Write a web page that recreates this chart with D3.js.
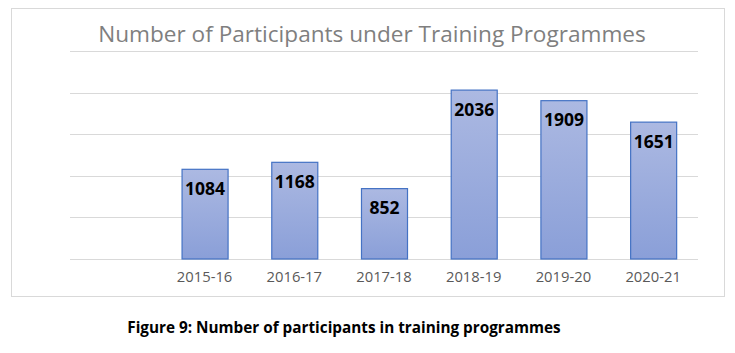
<!DOCTYPE html>
<html>
<head>
<meta charset="utf-8">
<script src="https://cdn.jsdelivr.net/npm/d3@7"></script>
<style>
  body { margin: 0; background: #fff; }
  svg { display: block; font-family: "Open Sans", sans-serif; }
</style>
</head>
<body>
<div id="chart"></div>
<script>
// Data
const years = ["2015-16", "2016-17", "2017-18", "2018-19", "2019-20", "2020-21"];
const participants = [1084, 1168, 852, 2036, 1909, 1651];
const yTicks = [0, 500, 1000, 1500, 2000, 2500];

const W = 735, H = 353;
const plot = { left: 70, right: 698, top: 51, bottom: 259 };

const svg = d3.select("#chart")
  .append("svg")
    .attr("width", W)
    .attr("height", H);

// Gradient for bars
const grad = svg.append("defs").append("linearGradient")
    .attr("id", "barGrad")
    .attr("x1", 0).attr("y1", 0).attr("x2", 0).attr("y2", 1);
grad.append("stop").attr("offset", "0%").attr("stop-color", "#acb9e2");
grad.append("stop").attr("offset", "100%").attr("stop-color", "#8a9fd8");

// Chart frame
svg.append("rect")
    .attr("x", 11.5).attr("y", 8.5)
    .attr("width", 713).attr("height", 288)
    .attr("fill", "#fff")
    .attr("stroke", "#d9d9d9");

// Title
svg.append("text")
    .attr("x", 372)
    .attr("y", 42)
    .attr("text-anchor", "middle")
    .attr("fill", "#7f7f7f")
    .style("font-size", "22.6px")
    .text("Number of Participants under Training Programmes");

// Scales (first slot left empty, as in the original)
const x = d3.scaleBand()
    .domain([""].concat(years))
    .range([plot.left, plot.right])
    .paddingInner(0.487)
    .paddingOuter(0.2435);

const y = d3.scaleLinear()
    .domain([0, 2500])
    .range([plot.bottom, plot.top]);

// Gridlines
svg.append("g")
  .selectAll("line")
  .data(yTicks)
  .enter().append("line")
    .attr("x1", plot.left)
    .attr("x2", plot.right)
    .attr("y1", d => Math.round(y(d)) + 0.5)
    .attr("y2", d => Math.round(y(d)) + 0.5)
    .attr("stroke", "#d9d9d9")
    .attr("stroke-width", 1);

// X axis labels
const xAxis = svg.append("g")
    .attr("transform", `translate(0, ${plot.bottom})`)
    .call(d3.axisBottom(x).tickSize(0).tickPadding(12));
xAxis.select(".domain").remove();
xAxis.selectAll("text")
    .attr("fill", "#595959")
    .style("font-size", "14.8px")
    .style("font-family", "'Open Sans', sans-serif");

// Bars
svg.selectAll(".bar")
  .data(participants)
  .enter().append("rect")
    .attr("class", "bar")
    .attr("x", (d, i) => x(years[i]) + 0.5)
    .attr("y", d => y(d) + 0.5)
    .attr("width", x.bandwidth())
    .attr("height", d => plot.bottom - y(d) - 0.5)
    .attr("fill", "url(#barGrad)")
    .attr("stroke", "#4472c4")
    .attr("stroke-width", 1.2);

// Value labels
svg.selectAll(".val")
  .data(participants)
  .enter().append("text")
    .attr("class", "val")
    .attr("x", (d, i) => x(years[i]) + x.bandwidth() / 2 + 0.5)
    .attr("y", d => y(d) + 26)
    .attr("text-anchor", "middle")
    .attr("fill", "#000")
    .style("font-size", "17.5px")
    .style("font-weight", "bold")
    .text(d => d);

// Caption
svg.append("text")
    .attr("x", 344)
    .attr("y", 333)
    .attr("text-anchor", "middle")
    .attr("fill", "#000")
    .style("font-size", "15.3px")
    .style("font-weight", "bold")
    .text("Figure 9: Number of participants in training programmes");
</script>
</body>
</html>
